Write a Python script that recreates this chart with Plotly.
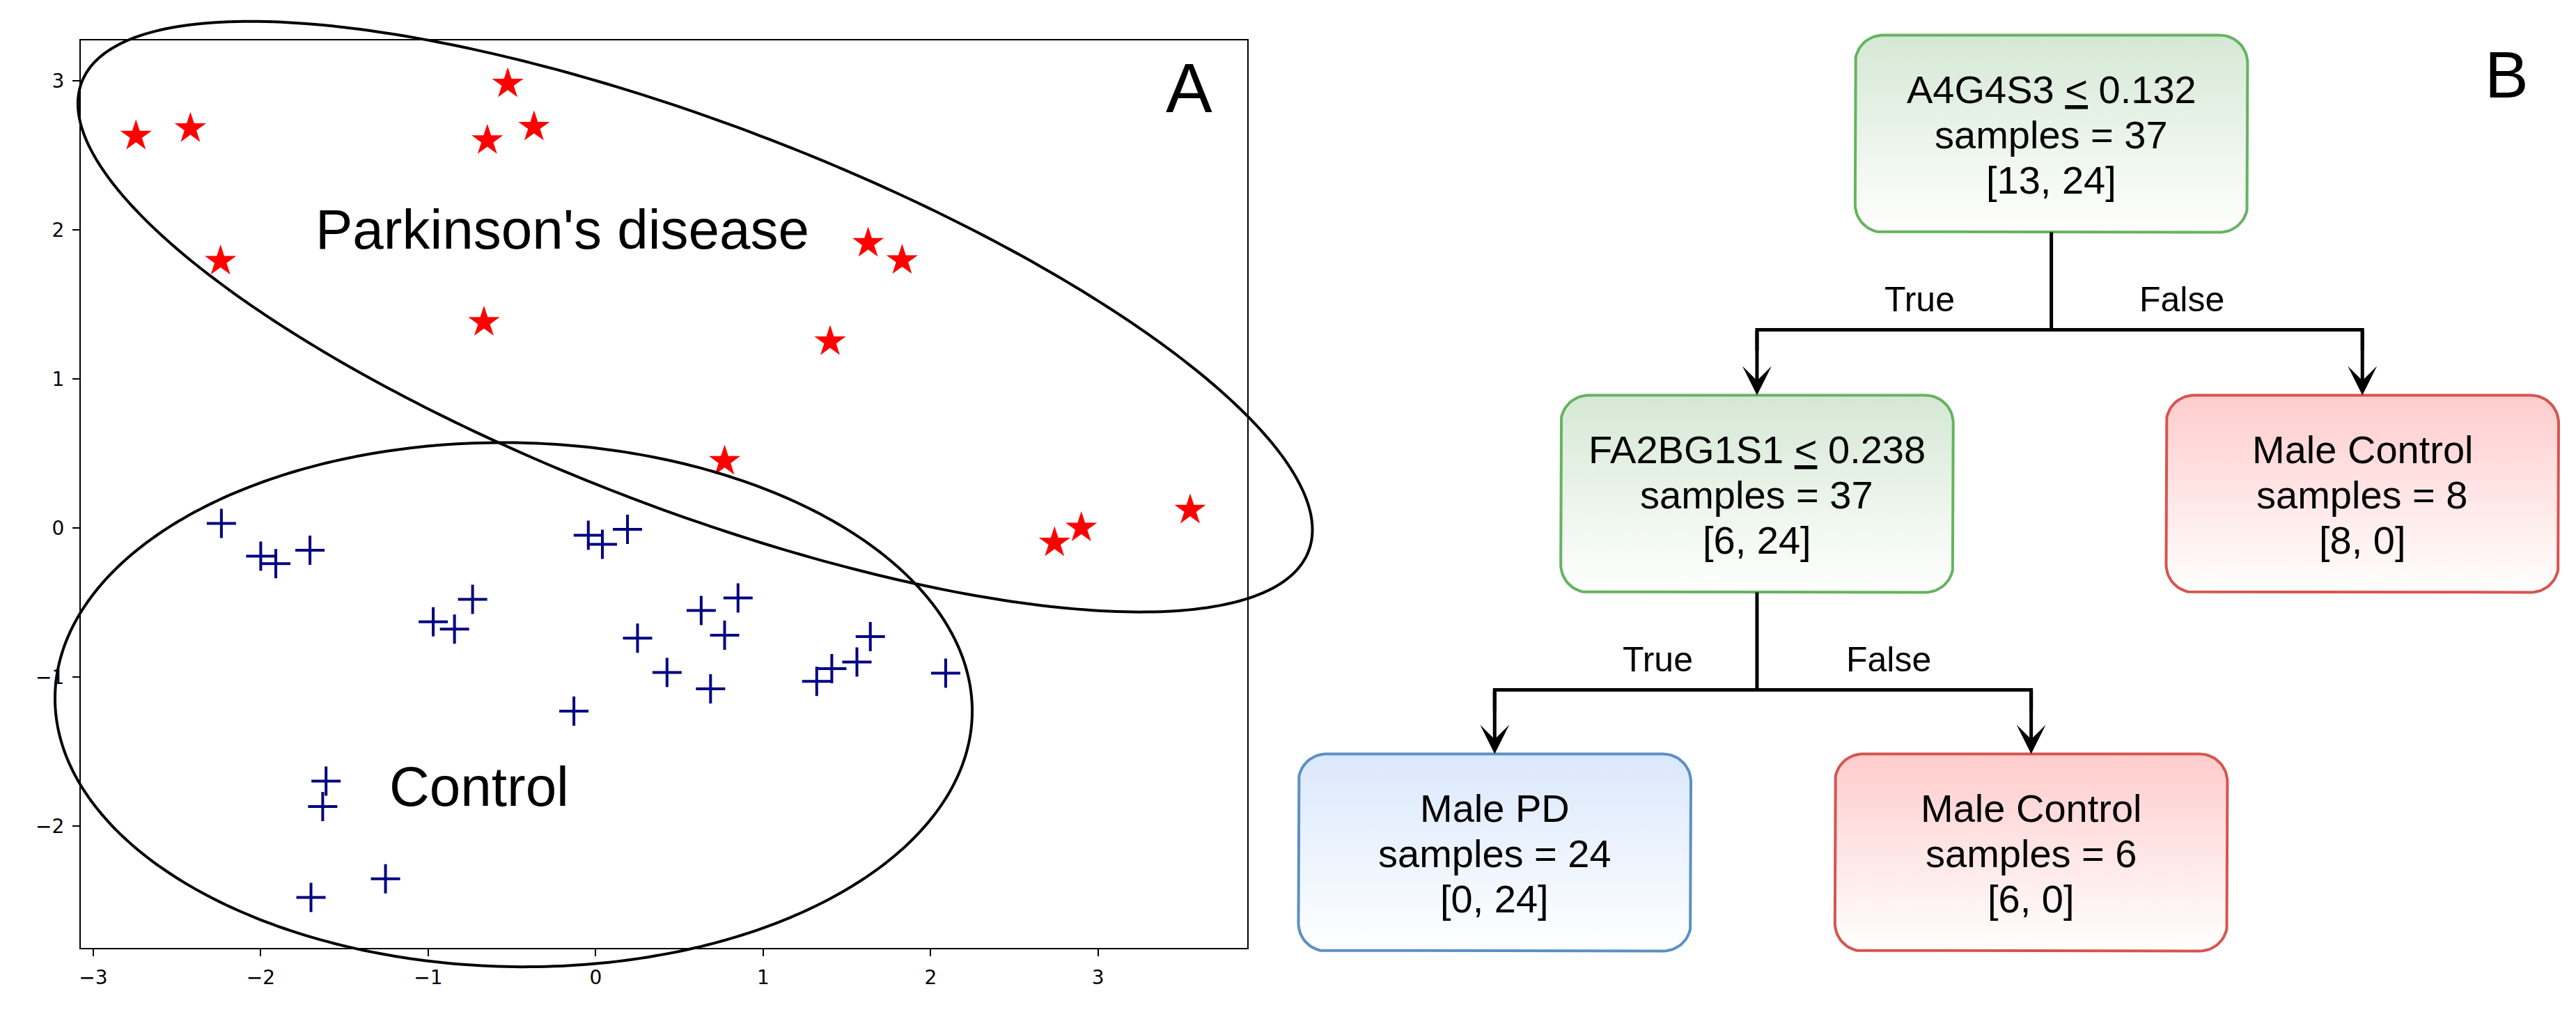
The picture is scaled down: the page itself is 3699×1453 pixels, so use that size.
import numpy as np
import plotly.graph_objects as go

# ---------------- Panel A data ----------------
pd_x = [-2.745, -2.42, -0.525, -0.647, -0.368, -2.24, -0.667, 1.627, 1.83, 1.40, 0.77, 2.74, 2.90, 3.55]
pd_y = [2.63, 2.68, 2.98, 2.60, 2.69, 1.79, 1.38, 1.91, 1.795, 1.25, 0.447, -0.10, 0.00, 0.12]

ctrl_x = [-2.235, -2.00, -1.91, -1.706, -0.97, -0.843, -0.735, -0.044, 0.04, 0.19, 0.25, 0.426, 0.63,
          0.77, 0.85, 0.686, -0.13, 1.32, 1.41, 1.56, 1.64, 2.09, -1.61, -1.63, -1.70, -1.255]
ctrl_y = [0.03, -0.19, -0.24, -0.15, -0.63, -0.68, -0.48, -0.05, -0.11, -0.01, -0.74, -0.97, -0.555,
          -0.72, -0.47, -1.08, -1.23, -1.03, -0.945, -0.90, -0.73, -0.975, -1.70, -1.87, -2.48, -2.355]

# group ellipses (centre, full width, full height, angle in degrees, data units)
ell_cx = [0.594, -0.490]
ell_cy = [1.417, -1.187]
ell_w = [7.976, 5.478]
ell_h = [2.536, 3.516]
ell_angle = [-23.75, -1.5]

group_labels = ["Parkinson's disease", "Control"]
group_label_x = [-1.68, -1.24]
group_label_y = [2.00, -1.735]

x_ticks = [-3, -2, -1, 0, 1, 2, 3]
y_ticks = [-2, -1, 0, 1, 2, 3]

# ---------------- Panel B data (decision tree) ----------------
node_line1 = ["A4G4S3 <u>&lt;</u> 0.132", "FA2BG1S1 <u>&lt;</u> 0.238", "Male Control", "Male PD", "Male Control"]
node_line2 = ["samples = 37", "samples = 37", "samples = 8", "samples = 24", "samples = 6"]
node_line3 = ["[13, 24]", "[6, 24]", "[8, 0]", "[0, 24]", "[6, 0]"]
node_class = ["split", "split", "control", "pd", "control"]
edge_parent = [0, 0, 1, 1]
edge_child = [1, 2, 3, 4]
edge_label = ["True", "False", "True", "False"]

# ---------------- layout / style ----------------
W, H = 3699, 1453
XA_DOM = [113 / W, 1789 / W]
YA_DOM = [1 - 1361 / H, 1 - 58 / H]
XA_RANGE = [-3.075, 3.889]
YA_RANGE = [-2.819, 3.271]

node_cx = [2945, 2522, 3392, 2145, 2916]
node_cy = [192, 709, 709, 1224, 1224]
BOX_W, BOX_H, BOX_R = 564, 283, 40
BAR_DROP = 140
LINE_GAP = 65
label_dx = [-189, 188, -143, 189]
LABEL_DY = -44

styles = {
    "split": dict(top="#d5e8d4", border="#66b360"),
    "control": dict(top="#ffcccc", border="#d65550"),
    "pd": dict(top="#dae8fc", border="#5b90c4"),
}

TXT_FONT = "Liberation Sans, Arial, sans-serif"
TICK_FONT = "DejaVu Sans, sans-serif"

fig = go.Figure()

# ---- Panel A scatter ----
fig.add_trace(go.Scatter(
    x=pd_x, y=pd_y, mode="markers", xaxis="x", yaxis="y",
    marker=dict(symbol="star", size=34, color="#ff0000", line=dict(width=0)),
    hoverinfo="skip", showlegend=False))
fig.add_trace(go.Scatter(
    x=ctrl_x, y=ctrl_y, mode="markers", xaxis="x", yaxis="y",
    marker=dict(symbol="cross-thin", size=30, line=dict(width=4, color="#000080")),
    hoverinfo="skip", showlegend=False))


def data_to_paper(x, y):
    px = XA_DOM[0] + (np.asarray(x) - XA_RANGE[0]) / (XA_RANGE[1] - XA_RANGE[0]) * (XA_DOM[1] - XA_DOM[0])
    py = YA_DOM[0] + (np.asarray(y) - YA_RANGE[0]) / (YA_RANGE[1] - YA_RANGE[0]) * (YA_DOM[1] - YA_DOM[0])
    return px, py


shapes = []
t = np.linspace(0, 2 * np.pi, 361)
for cx, cy, w, h, ang in zip(ell_cx, ell_cy, ell_w, ell_h, ell_angle):
    a = np.deg2rad(ang)
    ex = cx + (w / 2) * np.cos(t) * np.cos(a) - (h / 2) * np.sin(t) * np.sin(a)
    ey = cy + (w / 2) * np.cos(t) * np.sin(a) + (h / 2) * np.sin(t) * np.cos(a)
    px, py = data_to_paper(ex, ey)
    path = "M " + " L ".join(f"{u:.5f},{v:.5f}" for u, v in zip(px, py)) + " Z"
    shapes.append(dict(type="path", path=path, xref="paper", yref="paper",
                       line=dict(color="black", width=4), layer="above"))

annotations = []
for txt, lx, ly in zip(group_labels, group_label_x, group_label_y):
    annotations.append(dict(text=txt, x=lx, y=ly, xref="x", yref="y", xanchor="left", yanchor="middle",
                            showarrow=False, font=dict(family=TXT_FONT, size=80, color="black")))

annotations.append(dict(text="A", x=1670 / W, y=1 - 126 / H, xref="paper", yref="paper",
                        xanchor="left", yanchor="middle", showarrow=False,
                        font=dict(family=TXT_FONT, size=100, color="black")))
annotations.append(dict(text="B", x=3566 / W, y=1 - 108 / H, xref="paper", yref="paper",
                        xanchor="left", yanchor="middle", showarrow=False,
                        font=dict(family=TXT_FONT, size=94, color="black")))


# ---- Panel B tree ----
def rounded_rect(cx, cy, w, h, r, n=16):
    x0, x1, y0, y1 = cx - w / 2, cx + w / 2, cy - h / 2, cy + h / 2
    pts = []
    corners = [(x1 - r, y0 + r, -90, 0), (x1 - r, y1 - r, 0, 90),
               (x0 + r, y1 - r, 90, 180), (x0 + r, y0 + r, 180, 270)]
    for ccx, ccy, a0, a1 in corners:
        for aa in np.linspace(np.deg2rad(a0), np.deg2rad(a1), n):
            pts.append((ccx + r * np.cos(aa), ccy + r * np.sin(aa)))
    pts.append(pts[0])
    return [p[0] for p in pts], [p[1] for p in pts]


for i in range(len(node_class)):
    st = styles[node_class[i]]
    bx, by = rounded_rect(node_cx[i], node_cy[i], BOX_W, BOX_H, BOX_R)
    top = node_cy[i] - BOX_H / 2
    bot = node_cy[i] + BOX_H / 2
    fig.add_trace(go.Scatter(
        x=bx, y=by, mode="lines", xaxis="x2", yaxis="y2", fill="toself",
        fillgradient=dict(type="vertical", colorscale=[[0, st["top"]], [1, "#ffffff"]], start=top, stop=bot),
        line=dict(color=st["border"], width=4), hoverinfo="skip", showlegend=False))
    for k, line in enumerate([node_line1[i], node_line2[i], node_line3[i]]):
        annotations.append(dict(text=line, x=node_cx[i], y=node_cy[i] + (k - 1) * LINE_GAP + 1,
                                xref="x2", yref="y2", xanchor="center", yanchor="middle",
                                showarrow=False, font=dict(family=TXT_FONT, size=56, color="black")))

# connectors
ex, ey = [], []
for p in sorted(set(edge_parent)):
    kids = [c for pp, c in zip(edge_parent, edge_child) if pp == p]
    bar_y = node_cy[p] + BOX_H / 2 + BAR_DROP
    ex += [node_cx[p], node_cx[p], None]
    ey += [node_cy[p] + BOX_H / 2, bar_y, None]
    xs = sorted(node_cx[c] for c in kids)
    ex += [xs[0], xs[0], xs[-1], xs[-1], None]
    ey += [bar_y + 30, bar_y, bar_y, bar_y + 30, None]
fig.add_trace(go.Scatter(x=ex, y=ey, mode="lines", xaxis="x2", yaxis="y2",
                         line=dict(color="black", width=5), hoverinfo="skip", showlegend=False))

for j, (p, c) in enumerate(zip(edge_parent, edge_child)):
    bar_y = node_cy[p] + BOX_H / 2 + BAR_DROP
    annotations.append(dict(text="", x=node_cx[c], y=node_cy[c] - BOX_H / 2, ax=node_cx[c], ay=bar_y,
                            xref="x2", yref="y2", axref="x2", ayref="y2", showarrow=True,
                            arrowhead=3, arrowsize=1.4, arrowwidth=5, arrowcolor="black", standoff=0))
    annotations.append(dict(text=edge_label[j], x=node_cx[p] + label_dx[j], y=bar_y + LABEL_DY,
                            xref="x2", yref="y2", xanchor="center", yanchor="middle", showarrow=False,
                            font=dict(family=TXT_FONT, size=50, color="black")))

axis_common = dict(showgrid=False, zeroline=False, showline=True, linecolor="black", linewidth=2,
                   mirror=True, ticks="outside", ticklen=10, tickwidth=2, tickcolor="black",
                   tickfont=dict(family=TICK_FONT, size=28, color="black"), ticklabelstandoff=6)

fig.update_layout(
    width=W, height=H, margin=dict(l=0, r=0, t=0, b=0),
    paper_bgcolor="white", plot_bgcolor="rgba(0,0,0,0)", showlegend=False,
    xaxis=dict(domain=XA_DOM, range=XA_RANGE, tickvals=x_ticks, anchor="y", **axis_common),
    yaxis=dict(domain=YA_DOM, range=YA_RANGE, tickvals=y_ticks, anchor="x", **axis_common),
    xaxis2=dict(domain=[0, 1], range=[0, W], visible=False, anchor="y2"),
    yaxis2=dict(domain=[0, 1], range=[H, 0], visible=False, anchor="x2"),
    shapes=shapes, annotations=annotations,
)

fig.write_html("out.html", config={"displayModeBar": False},
               post_script="document.body.style.margin='0';document.body.style.overflow='hidden';")
